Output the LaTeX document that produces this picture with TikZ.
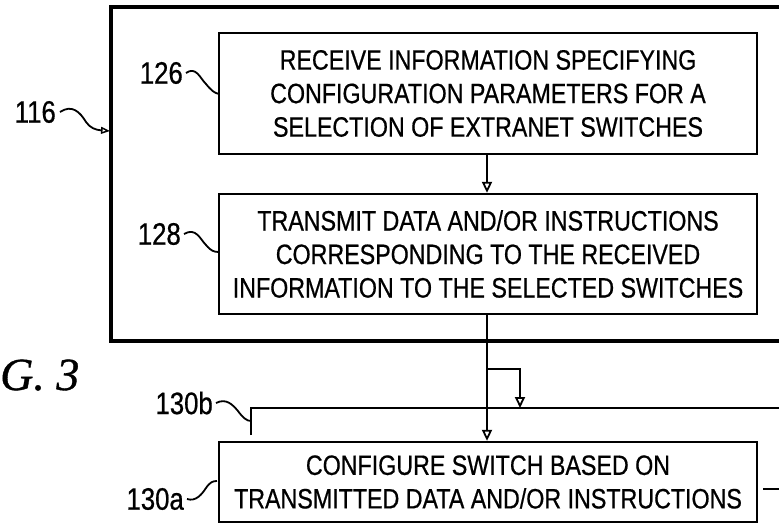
\documentclass[tikz,border=0pt]{standalone}
\usepackage{fontspec}
\setmainfont{Liberation Sans}[FakeStretch=0.83, FakeBold=0.6]
\newfontfamily\figfont{Liberation Serif}[FakeBold=0.8]
\usetikzlibrary{arrows.meta}
\tikzset{
  stepbox/.style={draw, line width=2.3pt, minimum width=538pt, inner sep=0pt,
    align=center, font=\fontsize{28}{33.5}\selectfont},
  frame/.style={line width=3.4pt},
  flow/.style={line width=2.4pt, -{Triangle[open, length=11pt, width=10pt, line width=1.8pt]}},
  plain/.style={line width=2.4pt},
  reflabel/.style={font=\fontsize{31}{31}\selectfont, inner sep=0pt},
  lead/.style={line width=1.8pt}
}
\begin{document}
\begin{tikzpicture}[x=1pt, y=-1pt]
\useasboundingbox (0,0) rectangle (779,525);
\clip (0,0) rectangle (779,525);
% outer frame 116
\draw[frame] (790,7) -- (111,7) -- (111,341) -- (790,341);
% boxes
\node[stepbox, minimum height=121pt] (b126) at (488,93.5)
  {RECEIVE INFORMATION SPECIFYING\\CONFIGURATION PARAMETERS FOR A\\SELECTION OF EXTRANET SWITCHES};
\node[stepbox, minimum height=120pt] (b128) at (488,254)
  {TRANSMIT DATA AND/OR INSTRUCTIONS\\CORRESPONDING TO THE RECEIVED\\INFORMATION TO THE SELECTED SWITCHES};
\node[stepbox, minimum height=80pt] (b130) at (488,482)
  {CONFIGURE SWITCH BASED ON\\TRANSMITTED DATA AND/OR INSTRUCTIONS};
% connectors
\draw[flow] (b126.south -| 487,0) -- (b128.north -| 487,0);
\coordinate (split) at (487,369);
\coordinate (bend) at (520,369);
\coordinate (busL) at (251,408);
\coordinate (busR) at (779,408);
\coordinate (busT) at (520,408);
\coordinate (tick) at (251,435);
\draw[flow] (b128.south -| 487,0) -- (b130.north -| 487,0);
\draw[flow] (split) -- (bend) -- (busT);
\draw[plain] (tick) -- (busL) -- (busR);
\coordinate (stubA) at (763,489);
\coordinate (stubB) at (779,489);
\draw[plain] (stubA) -- (stubB);
% reference labels
\node[reflabel, anchor=east] (l116) at (56,112) {116};
\node[reflabel, anchor=east] (l126) at (183,73) {126};
\node[reflabel, anchor=east] (l128) at (181,234) {128};
\node[reflabel, anchor=east] (l130b) at (213,403) {130b};
\node[reflabel, anchor=east] (l130a) at (184,499) {130a};
\coordinate (a116) at (110,131);
\coordinate (a126) at (219,94);
\coordinate (a128) at (219,252);
\coordinate (a130b) at (251,421);
\coordinate (a130a) at (217,481);
\draw[lead, -{Triangle[open, length=9pt, width=7pt, line width=1.5pt]}]
  ([xshift=4pt]l116.east) .. controls (72,104) and (80,112) .. (86,122)
  .. controls (90,128) and (96,130) .. (a116);
\draw[lead] ([xshift=3pt]l126.east) .. controls (196,66) and (200,78) .. (206,84)
  .. controls (211,90) and (214,93) .. (a126);
\draw[lead] ([xshift=3pt]l128.east) .. controls (196,227) and (200,239) .. (206,245)
  .. controls (211,251) and (214,252) .. (a128);
\draw[lead] ([xshift=3pt]l130b.east) .. controls (226,398) and (232,404) .. (238,411)
  .. controls (243,418) and (247,421) .. (a130b);
\draw[lead] ([xshift=3pt]l130a.east) .. controls (196,502) and (202,494) .. (206,488)
  .. controls (210,482) and (213,481) .. (a130a);
% figure caption
\node[font=\figfont\itshape\fontsize{46}{46}\selectfont, anchor=base west, inner sep=0pt] (fig) at (0,390) {G. 3};
\end{tikzpicture}
\end{document}
